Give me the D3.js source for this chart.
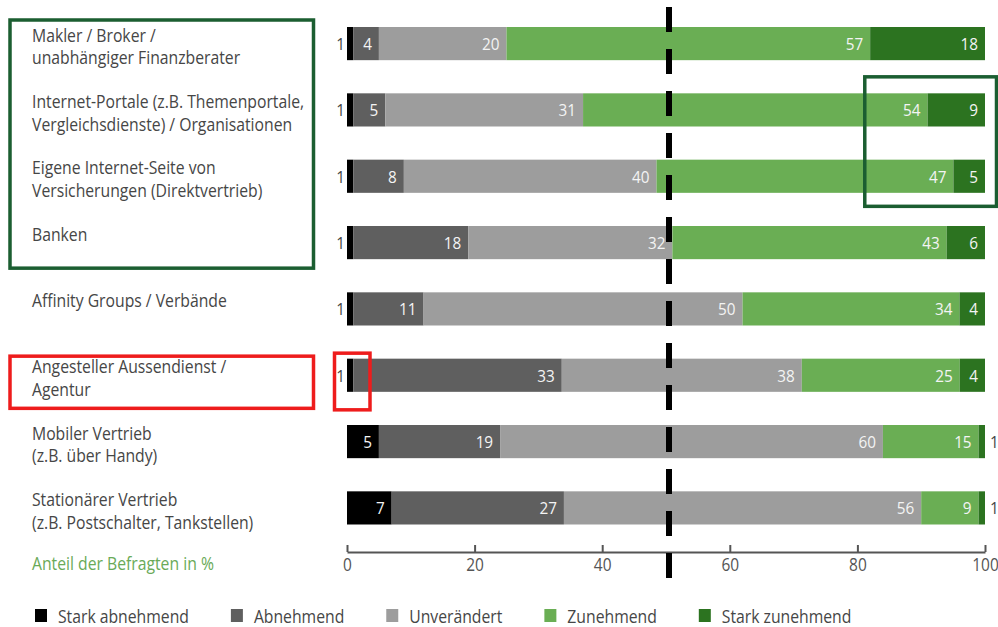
<!DOCTYPE html>
<html lang="de">
<head>
<meta charset="utf-8">
<title>Vertriebswege – erwartete Entwicklung</title>
<script src="https://cdn.jsdelivr.net/npm/d3@7"></script>
<style>
  html, body { margin: 0; padding: 0; background: #ffffff; }
  svg { display: block; }
  text { font-family: "Open Sans", "DejaVu Sans", sans-serif; }
</style>
</head>
<body>
<svg id="chart" width="998" height="627"></svg>
<script>
// Vertriebswege (each entry is one label, split into its lines)
const categories = [
  ["Makler / Broker /", "unabhängiger Finanzberater"],
  ["Internet-Portale (z.B. Themenportale,", "Vergleichsdienste) / Organisationen"],
  ["Eigene Internet-Seite von", "Versicherungen (Direktvertrieb)"],
  ["Banken"],
  ["Affinity Groups / Verbände"],
  ["Angesteller Aussendienst /", "Agentur"],
  ["Mobiler Vertrieb", "(z.B. über Handy)"],
  ["Stationärer Vertrieb", "(z.B. Postschalter, Tankstellen)"]
];

const seriesNames = ["Stark abnehmend", "Abnehmend", "Unverändert", "Zunehmend", "Stark zunehmend"];
const seriesColors = ["#000000", "#5f5f5f", "#9d9d9d", "#6aae54", "#2c7320"];

// Anteil der Befragten in %
const starkAbnehmend = [1, 1, 1, 1, 1, 1, 5, 7];
const abnehmend      = [4, 5, 8, 18, 11, 33, 19, 27];
const unveraendert   = [20, 31, 40, 32, 50, 38, 60, 56];
const zunehmend      = [57, 54, 47, 43, 34, 25, 15, 9];
const starkZunehmend = [18, 9, 5, 6, 4, 4, 1, 1];

const xTicks = [0, 20, 40, 60, 80, 100];
const referenceValue = 50;

const seriesValues = [starkAbnehmend, abnehmend, unveraendert, zunehmend, starkZunehmend];
const rows = categories.map((c, i) => {
  const r = { key: i };
  seriesNames.forEach((s, j) => { r[s] = seriesValues[j][i]; });
  return r;
});

const svg = d3.select("#chart");
const textColor = "#464646";
const squeeze = 0.9;   // horizontal compression for the narrow type face

// Text written in a horizontally condensed style
function condensedText(parent, x, y, str, opts = {}) {
  const g = parent.append("g")
    .attr("transform", `translate(${x},${y}) scale(${opts.sx || squeeze},1)`);
  const t = g.append("text")
    .attr("x", 0).attr("y", 0)
    .attr("dominant-baseline", "central")
    .attr("text-anchor", opts.anchor || "start")
    .attr("font-size", opts.size || 17.5)
    .attr("fill", opts.fill || textColor)
    .text(str);
  return t;
}

const x = d3.scaleLinear().domain([0, 100]).range([347, 985]);
const y = d3.scaleBand().domain(d3.range(categories.length))
  .range([27, 524.5]).paddingInner(0.5).paddingOuter(0);

// Each row is scaled to its own total so the bar spans the full width
const stack = d3.stack().keys(seriesNames).offset(d3.stackOffsetExpand);
const stacked = stack(rows);

const bars = svg.append("g");
stacked.forEach((layer, j) => {
  bars.selectAll(null)
    .data(layer)
    .join("rect")
    .attr("x", d => x(d[0] * 100))
    .attr("y", (d, i) => y(i))
    .attr("width", d => x(d[1] * 100) - x(d[0] * 100))
    .attr("height", y.bandwidth())
    .attr("fill", seriesColors[j]);
});

// Value labels
const labels = svg.append("g");
stacked.forEach((layer, j) => {
  layer.forEach((d, i) => {
    const v = d.data[seriesNames[j]];
    const x0 = x(d[0] * 100), x1 = x(d[1] * 100);
    const cy = y(i) + y.bandwidth() / 2;
    if (x1 - x0 < 14) {
      if (j === 0) condensedText(labels, x0 - 2, cy, v, { anchor: "end", size: 17, sx: 0.9 });
      else condensedText(labels, x1 + 5, cy, v, { anchor: "start", size: 17, sx: 0.9 });
    } else {
      condensedText(labels, x1 - 7, cy, v, { anchor: "end", size: 17, sx: 0.9, fill: "#f4f4f4" });
    }
  });
});

// Category labels
const cats = svg.append("g");
categories.forEach((lines, i) => {
  lines.forEach((ln, k) => {
    condensedText(cats, 32, y(i) + 8 + k * 22.5, ln);
  });
});

// Axis
const axisY = 552;
const axis = svg.append("g")
  .attr("transform", `translate(0,${axisY})`)
  .call(d3.axisBottom(x).tickValues(xTicks).tickSizeInner(-7).tickSizeOuter(0).tickPadding(6));
axis.select(".domain").attr("stroke", "#555").attr("stroke-width", 2);
axis.selectAll(".tick line").attr("stroke", "#555").attr("stroke-width", 2);
axis.selectAll(".tick text")
  .attr("font-family", "'Open Sans', sans-serif")
  .attr("font-size", 18)
  .attr("fill", "#555")
  .attr("transform", "scale(0.86,1)");

condensedText(svg, 32, 563, "Anteil der Befragten in %", { fill: "#6aaa58" });

// Reference line at 50 %
svg.append("line")
  .attr("x1", x(referenceValue) + 3).attr("x2", x(referenceValue) + 3)
  .attr("y1", 7).attr("y2", 578)
  .attr("stroke", "#000").attr("stroke-width", 6)
  .attr("stroke-dasharray", "25 17");

// Highlight frames
const frames = svg.append("g").attr("fill", "none").attr("stroke-width", 3.5);
const rowTop = i => y(i), rowBottom = i => y(i) + y.bandwidth();
frames.append("rect")
  .attr("x", 10).attr("y", rowTop(0) - 7)
  .attr("width", 303.5).attr("height", rowBottom(3) - rowTop(0) + 16)
  .attr("stroke", "#1b5e31");
frames.append("rect")
  .attr("x", x(81) + 1).attr("y", rowTop(1) - 16.5)
  .attr("width", 996.5 - x(81) - 1).attr("height", rowBottom(2) - rowTop(1) + 30)
  .attr("stroke", "#1b5e31");
frames.append("rect")
  .attr("x", 10).attr("y", rowTop(5) - 2.5)
  .attr("width", 303.5).attr("height", rowBottom(5) - rowTop(5) + 19)
  .attr("stroke", "#ee1c1c");
frames.append("rect")
  .attr("x", x(0) - 12.5).attr("y", rowTop(5) - 5.5)
  .attr("width", 35.5).attr("height", rowBottom(5) - rowTop(5) + 23.5)
  .attr("stroke", "#ee1c1c");

// Legend
const legend = svg.append("g");
let lx = 35;
seriesNames.forEach((name, j) => {
  legend.append("rect")
    .attr("x", lx).attr("y", 609).attr("width", 12).attr("height", 13)
    .attr("fill", seriesColors[j]);
  const t = condensedText(legend, lx + 23, 616, name);
  const w = t.node().getComputedTextLength() * squeeze;
  lx = lx + 23 + w + 42;
});
</script>
</body>
</html>
